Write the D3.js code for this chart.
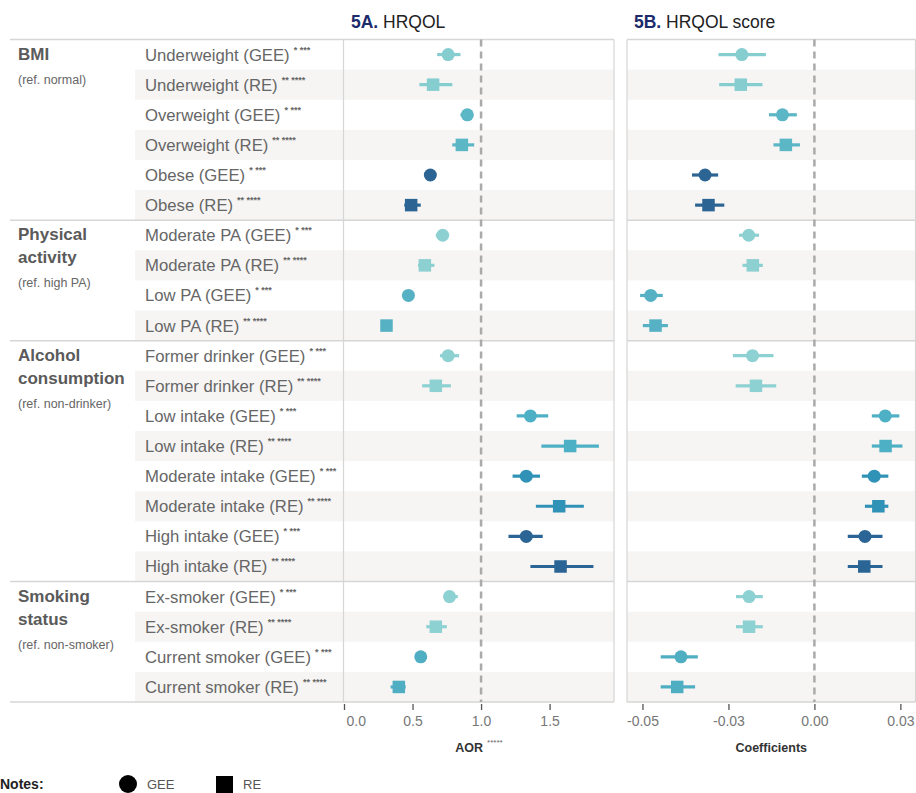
<!DOCTYPE html>
<html>
<head>
<meta charset="utf-8">
<script src="https://cdn.jsdelivr.net/npm/d3@7"></script>
<style>
  body { margin: 0; background: #fff; }
  svg { display: block; font-family: "Liberation Sans", Arial, sans-serif; }
</style>
</head>
<body>
<div id="chart"></div>
<script>
// groups and their reference categories
const groupNames = [["BMI"], ["Physical", "activity"], ["Alcohol", "consumption"], ["Smoking", "status"]];
const groupRefs = ["(ref. normal)", "(ref. high PA)", "(ref. non-drinker)", "(ref. non-smoker)"];

const categories = ["Underweight", "Overweight", "Obese", "Moderate PA", "Low PA",
  "Former drinker", "Low intake", "Moderate intake", "High intake", "Ex-smoker", "Current smoker"];
const categoryGroup = [0, 0, 0, 1, 1, 2, 2, 2, 2, 3, 3];
const models = ["GEE", "RE"];
const modelMarks = { GEE: "* ***", RE: "** ****" };

// 5A: adjusted odds ratios (rows: GEE, RE for each category)
const aorEst = [0.76, 0.65, 0.90, 0.86, 0.63, 0.49, 0.72, 0.59, 0.47, 0.31, 0.76, 0.67,
  1.36, 1.65, 1.33, 1.57, 1.33, 1.58, 0.77, 0.67, 0.56, 0.40];
const aorLo = [0.68, 0.55, 0.85, 0.79, 0.60, 0.44, 0.67, 0.54, 0.45, 0.29, 0.70, 0.57,
  1.26, 1.44, 1.23, 1.40, 1.20, 1.36, 0.74, 0.60, 0.53, 0.34];
const aorHi = [0.85, 0.79, 0.94, 0.95, 0.66, 0.56, 0.76, 0.66, 0.50, 0.34, 0.84, 0.78,
  1.49, 1.86, 1.43, 1.75, 1.45, 1.82, 0.83, 0.75, 0.58, 0.45];

// 5B: HRQOL score coefficients
const coefEst = [-0.0211, -0.0214, -0.0093, -0.0083, -0.0318, -0.0308, -0.0191, -0.0179, -0.0476, -0.0462,
  -0.0180, -0.0170, 0.0206, 0.0207, 0.0174, 0.0186, 0.0147, 0.0145, -0.0190, -0.0190, -0.0388, -0.0399];
const coefLo = [-0.0279, -0.0277, -0.0132, -0.0119, -0.0356, -0.0347, -0.0219, -0.0209, -0.0507, -0.0499,
  -0.0237, -0.0229, 0.0167, 0.0167, 0.0138, 0.0147, 0.0097, 0.0097, -0.0228, -0.0228, -0.0447, -0.0447];
const coefHi = [-0.0141, -0.0151, -0.0051, -0.0042, -0.0280, -0.0262, -0.0161, -0.0150, -0.0441, -0.0426,
  -0.0119, -0.0111, 0.0247, 0.0256, 0.0215, 0.0215, 0.0198, 0.0198, -0.0150, -0.0150, -0.0339, -0.0347];

const aorTicks = [0, 0.5, 1, 1.5];
const aorTickLabels = ["0.0", "0.5", "1.0", "1.5"];
const coefTicks = [-0.05, -0.025, 0, 0.025];
const coefTickLabels = ["-0.05", "-0.03", "0.00", "0.03"];

const categoryColor = {
  "Underweight": "#86cdd0",
  "Overweight": "#5bb6c5",
  "Obese": "#2c6594",
  "Moderate PA": "#8dd0d1",
  "Low PA": "#56b1c4",
  "Former drinker": "#8ed1d2",
  "Low intake": "#4eb0c5",
  "Moderate intake": "#2f92b6",
  "High intake": "#2b6595",
  "Ex-smoker": "#8ed1d2",
  "Current smoker": "#50aec3"
};

const colors = {
  label: "#666",
  group: "#5a5a5a",
  frame: "#d6d6d6",
  stripe: "#f6f5f4",
  ref: "#aaaaaa",
  navy: "#1b2b6b"
};

// build rows
const rows = [];
categories.forEach((c, ci) => {
  models.forEach(m => {
    const i = rows.length;
    rows.push({
      i, category: c, model: m, group: categoryGroup[ci],
      aor: aorEst[i], aorLo: aorLo[i], aorHi: aorHi[i],
      coef: coefEst[i], coefLo: coefLo[i], coefHi: coefHi[i]
    });
  });
});

const W = 916, H = 793;
const yTop = 39.5, yBottom = 702;
const labelX = 145, stripeX = 135, lineX = 10;
const panelA = { x0: 343.5, x1: 614 };
const panelB = { x0: 627, x1: 915.5 };

const svg = d3.select("#chart").append("svg")
  .attr("width", W)
  .attr("height", H);

const y = d3.scaleBand()
  .domain(rows.map(d => d.i))
  .range([yTop, yBottom])
  .padding(0);

const xA = d3.scaleLinear().domain([0, 1.97]).range([344, panelA.x1]);
const xB = d3.scaleLinear().domain([-0.0545, 0.0294]).range([panelB.x0, panelB.x1]);

// stripes on RE rows
const stripeRows = rows.filter(d => d.model === "RE");
[[stripeX, panelA.x1], [panelB.x0, panelB.x1]].forEach(([a, b]) => {
  svg.selectAll(null)
    .data(stripeRows)
    .enter()
    .append("rect")
    .attr("x", a)
    .attr("y", d => y(d.i))
    .attr("width", b - a)
    .attr("height", y.bandwidth())
    .attr("fill", colors.stripe);
});

// group separator lines (top of each group + bottom)
const groupStarts = [0, 1, 2, 3].map(g => rows.find(d => d.group === g).i);
const hLines = groupStarts.map(i => y(i)).concat([yBottom]);
[[lineX, panelA.x1], [panelB.x0, panelB.x1]].forEach(([a, b]) => {
  svg.selectAll(null)
    .data(hLines)
    .enter()
    .append("line")
    .attr("x1", a).attr("x2", b)
    .attr("y1", d => d).attr("y2", d => d)
    .attr("stroke", colors.frame)
    .attr("stroke-width", 1.5);
});

// panel vertical borders
[panelA.x0, panelA.x1, panelB.x0, panelB.x1].forEach(x => {
  svg.append("line")
    .attr("x1", x).attr("x2", x)
    .attr("y1", yTop).attr("y2", yBottom)
    .attr("stroke", colors.frame)
    .attr("stroke-width", 1.2);
});

// group labels
groupNames.forEach((lines, g) => {
  const y0 = y(groupStarts[g]);
  lines.forEach((t, k) => {
    svg.append("text")
      .attr("x", 18)
      .attr("y", y0 + 20 + k * 23)
      .style("font-size", "17px")
      .style("font-weight", "700")
      .style("fill", colors.group)
      .text(t);
  });
  svg.append("text")
    .attr("x", 18)
    .attr("y", y0 + 20 + (lines.length - 1) * 23 + 24)
    .style("font-size", "12.5px")
    .style("fill", colors.label)
    .text(groupRefs[g]);
});

// row labels with superscript marks
const rowLabel = svg.selectAll(".row-label")
  .data(rows)
  .enter()
  .append("text")
  .attr("class", "row-label")
  .attr("x", labelX)
  .attr("y", d => y(d.i) + y.bandwidth() / 2 + 6)
  .style("font-size", "16.7px")
  .style("fill", colors.label);

rowLabel.append("tspan")
  .text(d => `${d.category} (${d.model})`);

rowLabel.append("tspan")
  .attr("dx", 4)
  .attr("dy", -8)
  .style("font-size", "9px")
  .style("font-weight", "700")
  .text(d => modelMarks[d.model]);

// one forest panel
function drawPanel(x, key, lo, hi, refValue, ticks, tickLabels, title, subtitle, axisTitle, axisMark) {
  // reference line
  svg.append("line")
    .attr("x1", x(refValue)).attr("x2", x(refValue))
    .attr("y1", yTop).attr("y2", yBottom)
    .attr("stroke", colors.ref)
    .attr("stroke-width", 2.5)
    .attr("stroke-dasharray", "7,5");

  // CI lines
  svg.selectAll(null)
    .data(rows)
    .enter()
    .append("line")
    .attr("x1", d => x(d[lo]))
    .attr("x2", d => x(d[hi]))
    .attr("y1", d => y(d.i) + y.bandwidth() / 2)
    .attr("y2", d => y(d.i) + y.bandwidth() / 2)
    .attr("stroke", d => categoryColor[d.category])
    .attr("stroke-width", 3.2);

  // GEE circles
  svg.selectAll(null)
    .data(rows.filter(d => d.model === "GEE"))
    .enter()
    .append("circle")
    .attr("cx", d => x(d[key]))
    .attr("cy", d => y(d.i) + y.bandwidth() / 2)
    .attr("r", 6.5)
    .attr("fill", d => categoryColor[d.category]);

  // RE squares
  const s = 12.5;
  svg.selectAll(null)
    .data(rows.filter(d => d.model === "RE"))
    .enter()
    .append("rect")
    .attr("x", d => x(d[key]) - s / 2)
    .attr("y", d => y(d.i) + y.bandwidth() / 2 - s / 2)
    .attr("width", s)
    .attr("height", s)
    .attr("fill", d => categoryColor[d.category]);

  // axis
  const axis = d3.axisBottom(x)
    .tickValues(ticks)
    .tickSize(6)
    .tickPadding(6)
    .tickFormat((d, i) => tickLabels[i]);

  const g = svg.append("g")
    .attr("transform", `translate(0,${yBottom + 2})`)
    .call(axis);
  g.select(".domain").remove();
  g.selectAll(".tick line").attr("stroke", "#555").attr("stroke-width", 1.3);
  g.selectAll(".tick text")
    .style("font-family", "Liberation Sans, Arial, sans-serif")
    .style("font-size", "14px")
    .style("fill", "#777");
  // first label sits inside the panel edge when the tick is at the border
  if (x(ticks[0]) - x.range()[0] < 5) {
    g.select(".tick text").attr("text-anchor", "start").attr("dx", 2);
  }

  const mid = (x.range()[0] + x.range()[1]) / 2;
  const at = svg.append("text")
    .attr("x", mid)
    .attr("y", 752)
    .attr("text-anchor", "middle")
    .style("font-size", "12.5px")
    .style("font-weight", "700")
    .style("fill", "#333");
  at.append("tspan").text(axisTitle);
  if (axisMark) {
    at.append("tspan")
      .attr("dx", 4)
      .attr("dy", -7)
      .style("font-size", "8px")
      .style("font-weight", "400")
      .style("fill", "#666")
      .text(axisMark);
  }

  // panel title
  const t = svg.append("text")
    .attr("x", x.range()[0] + 7)
    .attr("y", 28)
    .style("font-size", "17.5px");
  t.append("tspan")
    .style("font-weight", "700")
    .style("fill", colors.navy)
    .text(title);
  t.append("tspan")
    .style("fill", "#222")
    .text(" " + subtitle);
}

drawPanel(xA, "aor", "aorLo", "aorHi", 1, aorTicks, aorTickLabels, "5A.", "HRQOL", "AOR", "*****");
drawPanel(xB, "coef", "coefLo", "coefHi", 0, coefTicks, coefTickLabels, "5B.", "HRQOL score", "Coefficients", null);

// legend
const leg = svg.append("g");
leg.append("text")
  .attr("x", 0)
  .attr("y", 789)
  .style("font-size", "14px")
  .style("font-weight", "700")
  .style("fill", "#222")
  .text("Notes:");
leg.append("circle")
  .attr("cx", 128).attr("cy", 784).attr("r", 9)
  .attr("fill", "#000");
leg.append("text")
  .attr("x", 147).attr("y", 789)
  .style("font-size", "13px")
  .style("fill", "#555")
  .text("GEE");
leg.append("rect")
  .attr("x", 216).attr("y", 776).attr("width", 17).attr("height", 17)
  .attr("fill", "#000");
leg.append("text")
  .attr("x", 243).attr("y", 789)
  .style("font-size", "13px")
  .style("fill", "#555")
  .text("RE");
</script>
</body>
</html>
